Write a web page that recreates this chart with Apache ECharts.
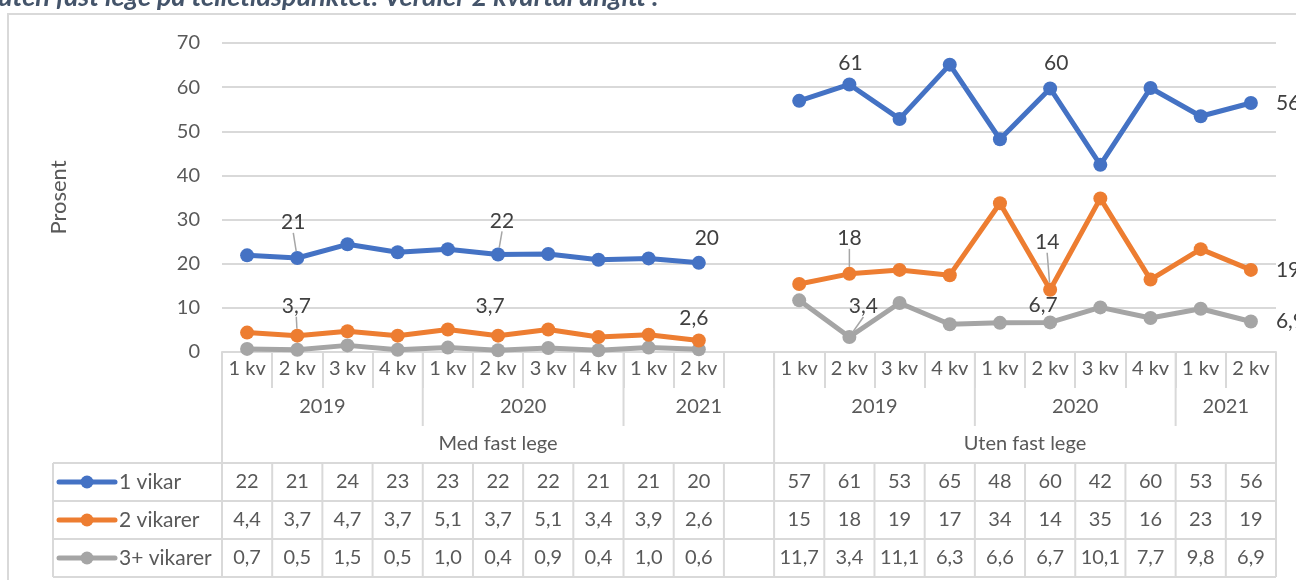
<!DOCTYPE html>
<html>
<head>
<meta charset="utf-8">
<script src="https://cdn.jsdelivr.net/npm/echarts@6/dist/echarts.min.js"></script>
<style>
  html, body { margin: 0; padding: 0; background: #fff; }
  #chart { width: 1296px; height: 580px; }
</style>
</head>
<body>
<div id="chart"></div>
<script>
// kvartaler og grupper
const quarters = ["1 kv", "2 kv", "3 kv", "4 kv", "1 kv", "2 kv", "3 kv", "4 kv", "1 kv", "2 kv"];
const yearsMed = [["2019", 0, 4], ["2020", 4, 8], ["2021", 8, 11]]; // [tekst, fra, til] kolonner
const yearsUten = [["2019", 0, 4], ["2020", 4, 8], ["2021", 8, 10]];
const groups = ["Med fast lege", "Uten fast lege"];
const seriesNames = ["1 vikar", "2 vikarer", "3+ vikarer"];
const colors = ["#4472C4", "#ED7D31", "#A5A5A5"];

// verdier (prosent)
const vikar1Med = [21.9, 21.3, 24.4, 22.6, 23.3, 22.1, 22.2, 20.9, 21.2, 20.2];
const vikar1Uten = [56.9, 60.6, 52.8, 65.1, 48.2, 59.7, 42.4, 59.8, 53.4, 56.4];
const vikar2Med = [4.4, 3.7, 4.7, 3.7, 5.1, 3.7, 5.1, 3.4, 3.9, 2.6];
const vikar2Uten = [15.4, 17.7, 18.6, 17.4, 33.7, 14.1, 34.8, 16.4, 23.3, 18.6];
const vikar3Med = [0.7, 0.5, 1.5, 0.5, 1.0, 0.4, 0.9, 0.4, 1.0, 0.6];
const vikar3Uten = [11.7, 3.4, 11.1, 6.3, 6.6, 6.7, 10.1, 7.7, 9.8, 6.9];

// antall desimaler i tabellen [med, uten]
const decimals = [[0, 0], [1, 0], [1, 1]];

const FONT = "Lato";
const TXT = "#595959";
const GRID_C = "#d9d9d9";

const fmt = (v, d) => v.toFixed(d).replace(".", ",");

const categories = quarters.concat([""], quarters);
const rows = [
  [vikar1Med, vikar1Uten],
  [vikar2Med, vikar2Uten],
  [vikar3Med, vikar3Uten],
];

// hvilke punkter har etikett: [dx, dy, hjelpelinje] eller "right"
const labelMoves = [
  { 1: [-4, -13, true], 5: [4, -11, true], 9: [8, -2], 12: [1, 1], 16: [6, -3], 20: "right" },
  { 1: [-1, -7, true], 5: [-8, -7], 9: [-5, 0], 12: [0, -13, true], 16: [-3, -25, true], 20: "right" },
  { 12: [14, -8, true], 16: [-7, 5], 20: "right" },
];

function buildData(r) {
  const [med, uten] = rows[r];
  const all = med.concat([null], uten);
  return all.map((v, i) => {
    if (v == null) return null;
    const mv = labelMoves[r][i];
    if (!mv) return v;
    const d = decimals[r][i < 10 ? 0 : 1];
    if (mv === "right") {
      return {
        value: v,
        label: { show: true, position: "right", distance: 18, formatter: fmt(v, d) },
        labelLine: { show: false },
      };
    }
    return {
      value: v,
      label: { show: true, position: "top", formatter: fmt(v, d) },
      labelLine: { show: !!mv[2] },
    };
  });
}

const chart = echarts.init(document.getElementById("chart"));

chart.setOption({
  animation: false,
  grid: { left: 222, right: 20, top: 43, bottom: 228 },
  xAxis: {
    type: "category",
    data: categories,
    boundaryGap: true,
    axisLine: { lineStyle: { color: GRID_C, width: 2 } },
    axisTick: { show: true, length: 36, alignWithLabel: false, lineStyle: { color: GRID_C, width: 2 } },
    axisLabel: { color: TXT, fontSize: 20, fontFamily: FONT, margin: 7, interval: 0 },
  },
  yAxis: {
    type: "value",
    min: 0,
    max: 70,
    interval: 10,
    name: "Prosent",
    nameLocation: "middle",
    nameRotate: 90,
    nameGap: 152,
    nameTextStyle: { color: TXT, fontSize: 22, fontFamily: FONT },
    axisLine: { show: false },
    axisTick: { show: false },
    axisLabel: { color: TXT, fontSize: 20, fontFamily: FONT, margin: 22 },
    splitLine: { lineStyle: { color: GRID_C, width: 2 } },
  },
  series: seriesNames.map((name, r) => ({
    name,
    type: "line",
    data: buildData(r),
    connectNulls: false,
    symbol: "circle",
    symbolSize: 14,
    color: colors[r],
    lineStyle: { width: 5, color: colors[r] },
    label: { show: false, color: "#404040", fontSize: 21, fontFamily: FONT },
    labelLine: { show: false, lineStyle: { color: "#a6a6a6", width: 1.5 } },
    labelLayout: (p) => {
      const mv = labelMoves[r][p.dataIndex];
      if (!mv || mv === "right") return {};
      return { dx: mv[0], dy: mv[1] };
    },
    z: 10 - r,
  })),
});

// tabell under aksen
const cx = (i) => chart.convertToPixel({ xAxisIndex: 0 }, i);
const y0 = chart.convertToPixel({ yAxisIndex: 0 }, 0);
const colW = cx(1) - cx(0);
const edge = (i) => cx(i) - colW / 2; // venstre kant av kolonne i
const left = edge(0);
const right = edge(21);

const yearBottom = y0 + 74;
const groupBottom = y0 + 111;
const rowH = 38;
const tableLeft = 53;
const g = [];

const line = (x1, y1, x2, y2) => ({
  type: "line",
  shape: { x1, y1, x2, y2 },
  style: { stroke: GRID_C, lineWidth: 2 },
  silent: true,
});
const text = (t, x, y, align, extra) => ({
  type: "text",
  x, y,
  style: Object.assign({ text: t, fill: TXT, font: "20px " + FONT, align: align || "center", verticalAlign: "middle" }, extra || {}),
  silent: true,
});

// ramme rundt figuren og tittelrest
g.push({ type: "rect", shape: { x: 8, y: 14, width: 1300, height: 600 }, style: { fill: null, stroke: GRID_C, lineWidth: 2 }, silent: true });
g.push(text("uten fast lege på telletidspunktet. Verdier 2 kvartal angitt .", -2, 11, "left",
  { fill: "#44546A", font: "italic bold 27px " + FONT, verticalAlign: "bottom" }));

// år og grupper
[yearsMed, yearsUten].forEach((years, k) => {
  const off = k * 11;
  years.forEach(([yr, a, b]) => {
    const xa = edge(off + a), xb = edge(off + b);
    g.push(text(yr, (xa + xb) / 2, y0 + 55));
    if (a > 0) g.push(line(xa, y0, xa, yearBottom));
  });
  g.push(text(groups[k], (edge(off) + edge(off + 11 - k)) / 2, y0 + 92));
});
g.push(line(left, y0, left, groupBottom + rowH * 3));
g.push(line(edge(11), y0, edge(11), groupBottom + rowH * 3));
g.push(line(right, y0, right, groupBottom + rowH * 3));

// dataradene
g.push(line(tableLeft, groupBottom, right, groupBottom));
for (let r = 0; r < 3; r++) {
  const yt = groupBottom + rowH * r;
  const ym = yt + rowH / 2;
  g.push(line(tableLeft, yt + rowH, right, yt + rowH));
  g.push({ type: "line", shape: { x1: 59, y1: ym, x2: 115, y2: ym }, style: { stroke: colors[r], lineWidth: 5, lineCap: "round" }, silent: true });
  g.push({ type: "circle", shape: { cx: 87, cy: ym, r: 6.5 }, style: { fill: colors[r] }, silent: true });
  g.push(text(seriesNames[r], 119, ym, "left", { font: "21px " + FONT }));
  rows[r].forEach((vals, k) => {
    vals.forEach((v, j) => {
      const i = k * 11 + j;
      g.push(text(fmt(v, decimals[r][k]), cx(i), ym));
    });
  });
}
g.push(line(tableLeft, groupBottom, tableLeft, groupBottom + rowH * 3));
for (let i = 1; i < 21; i++) {
  if (i === 11) continue;
  g.push(line(edge(i), groupBottom, edge(i), groupBottom + rowH * 3));
}

chart.setOption({ graphic: g });
</script>
</body>
</html>
